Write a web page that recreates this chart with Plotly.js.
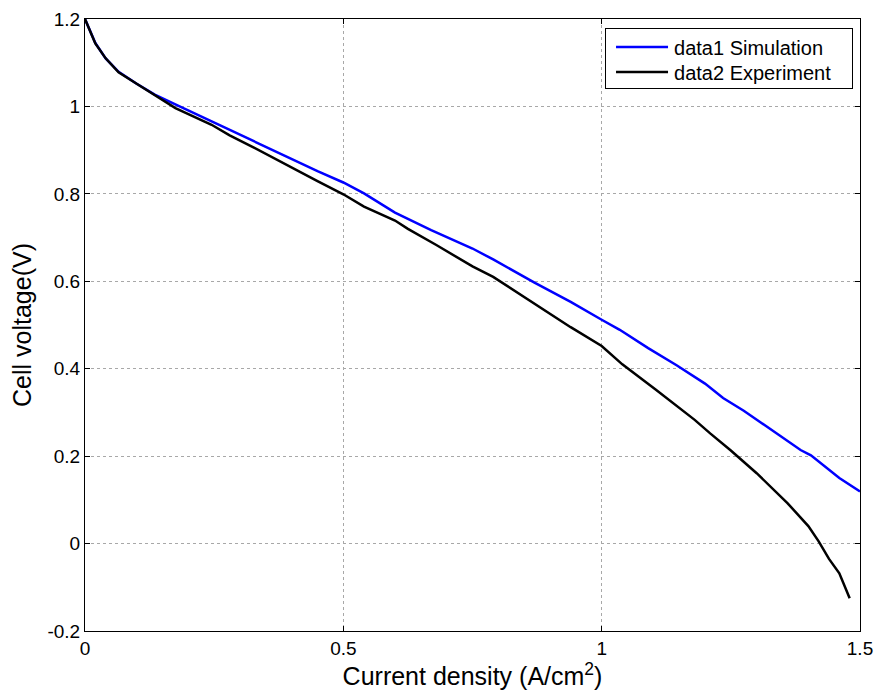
<!DOCTYPE html>
<html>
<head>
<meta charset="utf-8">
<script src="https://cdn.plot.ly/plotly-3.0.1.min.js"></script>
<style>html,body{margin:0;padding:0;background:#fff;}#chart{width:875px;height:698px;}</style>
</head>
<body>
<div id="chart"></div>
<script>
var simX = [0,0.02,0.04,0.065,0.1,0.135,0.18,0.23,0.29,0.355,0.41,0.45,0.5,0.54,0.6,0.67,0.75,0.79,0.87,0.94,1.0,1.035,1.09,1.145,1.2,1.235,1.275,1.31,1.345,1.385,1.405,1.46,1.5];
var simY = [1.2,1.145,1.11,1.079,1.052,1.027,1.002,0.974,0.942,0.905,0.875,0.852,0.826,0.801,0.757,0.717,0.675,0.65,0.597,0.553,0.512,0.489,0.447,0.408,0.366,0.333,0.304,0.276,0.248,0.214,0.202,0.15,0.119];
var expX = [0,0.02,0.04,0.065,0.1,0.175,0.245,0.28,0.325,0.39,0.45,0.5,0.54,0.6,0.625,0.68,0.75,0.79,0.835,0.9,0.94,1.0,1.04,1.105,1.18,1.21,1.25,1.3,1.36,1.4,1.42,1.44,1.46,1.48];
var expY = [1.2,1.144,1.11,1.078,1.052,0.996,0.958,0.934,0.907,0.866,0.829,0.799,0.771,0.739,0.72,0.683,0.634,0.61,0.576,0.527,0.495,0.452,0.41,0.352,0.283,0.252,0.213,0.161,0.092,0.04,0.005,-0.035,-0.068,-0.125];
var xTickVals = [0,0.5,1,1.5];
var xTickText = ["0","0.5","1","1.5"];
var yTickVals = [-0.2,0,0.2,0.4,0.6,0.8,1,1.2];
var yTickText = ["-0.2","0","0.2","0.4","0.6","0.8","1","1.2"];

var font = "Liberation Sans, Arial, sans-serif";
var traces = [
  {x: simX, y: simY, mode: "lines", name: "data1 Simulation", line: {color: "#0000ff", width: 2.5}},
  {x: expX, y: expY, mode: "lines", name: "data2 Experiment", line: {color: "#000000", width: 2.5}}
];
var axisCommon = {
  showline: true, linecolor: "#000", linewidth: 1, mirror: "ticks",
  ticks: "inside", ticklen: 5, tickcolor: "#000", tickwidth: 1,
  showgrid: true, gridcolor: "#a8a8a8", griddash: "dot", gridwidth: 1,
  zeroline: false, tickfont: {family: font, size: 19, color: "#000"}
};
var layout = {
  width: 875, height: 698,
  margin: {l: 85, r: 15, t: 19, b: 67},
  paper_bgcolor: "#fff", plot_bgcolor: "#fff",
  font: {family: font, color: "#000"},
  showlegend: true,
  legend: {x: 0.991, y: 0.986, xanchor: "right", yanchor: "top", bgcolor: "#fff",
           bordercolor: "#000", borderwidth: 1, font: {family: font, size: 20, color: "#000"},
           itemwidth: 58, tracegroupgap: 0},
  xaxis: Object.assign({}, axisCommon, {
    range: [0, 1.5], tickvals: xTickVals, ticktext: xTickText,
    title: {text: "Current density (A/cm<sup>2</sup>)", font: {family: font, size: 25, color: "#000"}, standoff: 5}
  }),
  yaxis: Object.assign({}, axisCommon, {
    range: [-0.2, 1.2], tickvals: yTickVals, ticktext: yTickText,
    title: {text: "Cell voltage(V)", font: {family: font, size: 25, color: "#000"}, standoff: 8}
  })
};
Plotly.newPlot("chart", traces, layout, {displayModeBar: false, staticPlot: true}).then(function () {
  document.querySelectorAll(".legend .legendlines path").forEach(function (p) {
    p.setAttribute("d", "M10,0h52");
  });
  var re = /translate\(\s*([-\d.]+)[ ,]+([-\d.]+)\s*\)/;
  var items = document.querySelectorAll(".legend .traces");
  var first = null, step = 25;
  items.forEach(function (g, i) {
    var m = re.exec(g.getAttribute("transform") || "");
    if (!m) return;
    var tx = parseFloat(m[1]), ty = parseFloat(m[2]);
    if (first === null) first = ty;
    g.setAttribute("transform", "translate(" + tx + "," + (first + i * step - 1) + ")");
  });
  var legend = document.querySelector(".legend");
  var bg = document.querySelector(".legend rect.bg");
  if (bg && legend) {
    var wantW = 247;
    var curW = parseFloat(bg.getAttribute("width"));
    bg.setAttribute("height", "60");
    bg.setAttribute("width", String(wantW));
    var m = re.exec(legend.getAttribute("transform") || "");
    if (m && !isNaN(curW)) {
      legend.setAttribute("transform", "translate(" + (parseFloat(m[1]) - (wantW - curW)) + "," + m[2] + ")");
    }
  }
});
</script>
</body>
</html>
